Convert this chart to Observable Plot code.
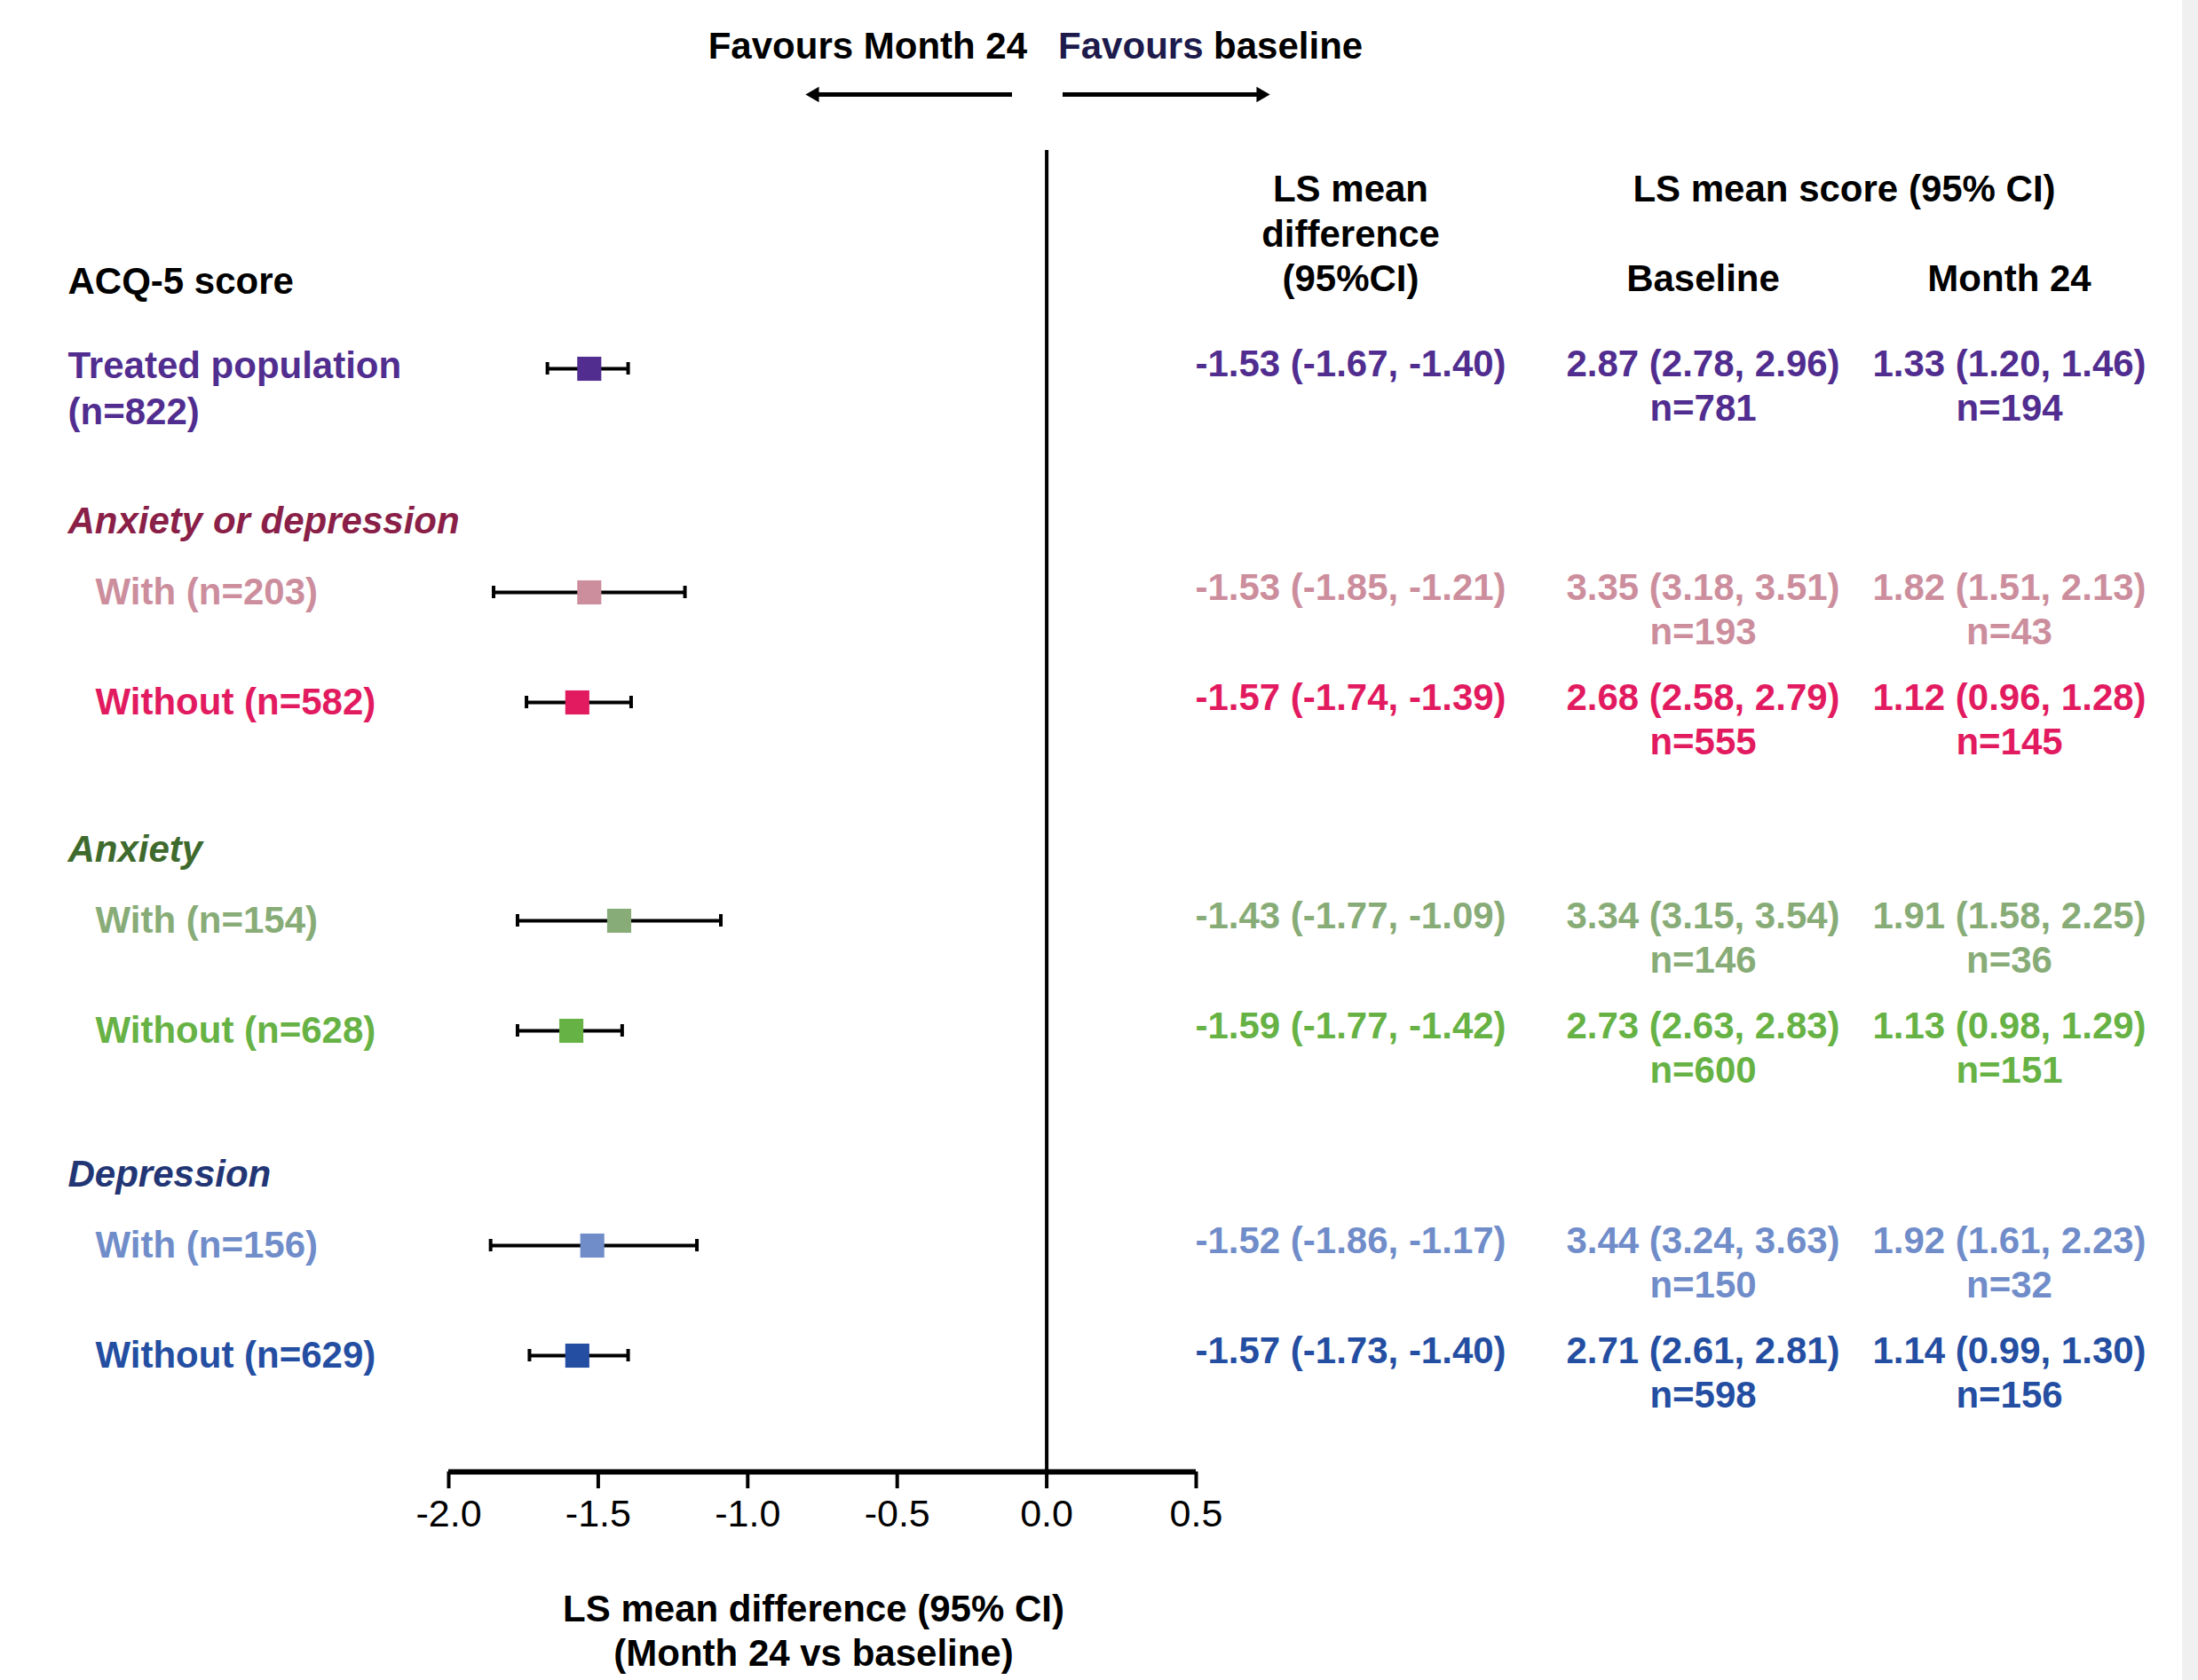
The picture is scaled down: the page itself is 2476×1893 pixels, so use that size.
<!DOCTYPE html>
<html><head><meta charset="utf-8">
<script src="https://cdn.jsdelivr.net/npm/d3@7"></script>
<script src="https://cdn.jsdelivr.net/npm/@observablehq/plot@0.6"></script>
<style>
html,body{margin:0;padding:0;background:#f0f0f0;}
#chart{width:2458px;height:1893px;background:#fff;overflow:hidden;}
</style></head><body><div id="chart"></div>
<script>
// ---------- data ----------
const groupHeadings = ["Anxiety or depression", "Anxiety", "Depression"];
const rowLabels = ["Treated population", "With", "Without", "With", "Without", "With", "Without"];
const sampleN = [822, 203, 582, 154, 628, 156, 629];
const diffMean = [-1.53, -1.53, -1.57, -1.43, -1.59, -1.52, -1.57];
const diffLo   = [-1.67, -1.85, -1.74, -1.77, -1.77, -1.86, -1.73];
const diffHi   = [-1.40, -1.21, -1.39, -1.09, -1.42, -1.17, -1.40];
const baseMean = [2.87, 3.35, 2.68, 3.34, 2.73, 3.44, 2.71];
const baseLo   = [2.78, 3.18, 2.58, 3.15, 2.63, 3.24, 2.61];
const baseHi   = [2.96, 3.51, 2.79, 3.54, 2.83, 3.63, 2.81];
const baseN    = [781, 193, 555, 146, 600, 150, 598];
const m24Mean  = [1.33, 1.82, 1.12, 1.91, 1.13, 1.92, 1.14];
const m24Lo    = [1.20, 1.51, 0.96, 1.58, 0.98, 1.61, 0.99];
const m24Hi    = [1.46, 2.13, 1.28, 2.25, 1.29, 2.23, 1.30];
const m24N     = [194, 43, 145, 36, 151, 32, 156];
const xTicks   = [-2.0, -1.5, -1.0, -0.5, 0.0, 0.5];

// ---------- styles ----------
const rowColors = ["#502d8f", "#cc8e9d", "#e21b60", "#88ac77", "#67b245", "#708dca", "#244ea2"];
const headingColors = ["#8a1f48", "#3e6a2d", "#223574"];
const W = 2458, H = 1893;
const FONT = '"Liberation Sans",Arial,Helvetica,sans-serif';
const X0 = 505, X1 = 1347, AXIS_Y = 1658;
const COL_DIFF = 1521, COL_BASE = 1918, COL_M24 = 2263;
const px2x = p => -2 + (p - X0) / (X1 - X0) * 2.5;

// ---------- layout (vertical) ----------
const rowY = [415];
const headingY = [];
{
  const headGap = [172, 166, 162];
  let y = 415;
  for (let g = 0; g < 3; g++) {
    y += headGap[g]; headingY.push(y);
    y += 80; rowY.push(y);
    y += 124; rowY.push(y);
  }
}
const f2 = v => v.toFixed(2);
const rows = rowLabels.map((lab, i) => ({
  label: i === 0 ? lab : `${lab} (n=${sampleN[i]})`,
  y: rowY[i], color: rowColors[i],
  mean: diffMean[i], lo: diffLo[i], hi: diffHi[i],
  diffText: `${f2(diffMean[i])} (${f2(diffLo[i])}, ${f2(diffHi[i])})`,
  baseText: `${f2(baseMean[i])} (${f2(baseLo[i])}, ${f2(baseHi[i])})`,
  baseNText: `n=${baseN[i]}`,
  m24Text: `${f2(m24Mean[i])} (${f2(m24Lo[i])}, ${f2(m24Hi[i])})`,
  m24NText: `n=${m24N[i]}`
}));
const headings = groupHeadings.map((h, g) => ({text: h, y: headingY[g], color: headingColors[g]}));
const subRows = rows.slice(1);
const arrows = [{a: px2x(1140), b: px2x(908), dir: -1}, {a: px2x(1197), b: px2x(1429), dir: 1}];

const bold = {fontFamily: FONT, fontWeight: "bold", fontSize: 42};
const colText = (key, dxp, dy) => Plot.text(rows, {
  ...bold, text: key, frameAnchor: "left", dx: dxp - X0, y: d => d.y + dy, fill: d => d.color, textAnchor: "middle"
});

const chart = Plot.plot({
  width: W, height: H,
  marginLeft: X0, marginRight: W - X1, marginTop: 0, marginBottom: H - AXIS_Y,
  x: {domain: [-2, 0.5], label: null},
  y: {domain: [0, H], range: [0, H], axis: null},
  color: {type: "identity"},
  style: {fontFamily: FONT, background: "white", overflow: "visible"},
  marks: [
    // header arrows
    Plot.text(["Favours Month 24"], {...bold, x: 0, y: 52, dx: -22, textAnchor: "end", text: d => d, fill: "#000"}),
    Plot.text(["Favours"], {...bold, x: 0, y: 52, dx: 13, textAnchor: "start", text: d => d, fill: "#1d1a4c"}),
    Plot.text(["baseline"], {...bold, x: 0, y: 52, dx: 1367 - 1179, textAnchor: "start", text: d => d, fill: "#000"}),
    Plot.ruleY(arrows, {x1: "a", x2: d => d.b - d.dir * 0.02, y: 106, strokeWidth: 5, stroke: "#000"}),
    Plot.dot(arrows.filter(d => d.dir < 0), {x: "b", y: 106, dx: 9, symbol: "triangle", rotate: -90, r: 6.5, fill: "#000", stroke: null}),
    Plot.dot(arrows.filter(d => d.dir > 0), {x: "b", y: 106, dx: -9, symbol: "triangle", rotate: 90, r: 6.5, fill: "#000", stroke: null}),
    // column headers
    Plot.text([{t: "LS mean", y: 213}, {t: "difference", y: 264}, {t: "(95%CI)", y: 314}], {
      ...bold, text: "t", y: "y", frameAnchor: "left", dx: COL_DIFF - X0, textAnchor: "middle", fill: "#000"
    }),
    Plot.text(["LS mean score (95% CI)"], {...bold, text: d => d, y: 213, frameAnchor: "left", dx: 2077 - X0, textAnchor: "middle", fill: "#000"}),
    Plot.text(["Baseline"], {...bold, text: d => d, y: 314, frameAnchor: "left", dx: COL_BASE - X0, textAnchor: "middle", fill: "#000"}),
    Plot.text(["Month 24"], {...bold, text: d => d, y: 314, frameAnchor: "left", dx: COL_M24 - X0, textAnchor: "middle", fill: "#000"}),
    // left labels
    Plot.text(["ACQ-5 score"], {...bold, text: d => d, y: 317, frameAnchor: "left", dx: 76 - X0, textAnchor: "start", fill: "#000"}),
    Plot.text([rows[0]], {...bold, text: "label", y: d => d.y - 3, frameAnchor: "left", dx: 76 - X0, textAnchor: "start", fill: "color"}),
    Plot.text([rows[0]], {...bold, text: () => `(n=${sampleN[0]})`, y: d => d.y + 49, frameAnchor: "left", dx: 76 - X0, textAnchor: "start", fill: "color"}),
    Plot.text(headings, {...bold, fontStyle: "italic", text: "text", y: "y",
      frameAnchor: "left", dx: 76 - X0, textAnchor: "start", fill: "color"}),
    Plot.text(subRows, {...bold, text: "label", y: "y",
      frameAnchor: "left", dx: 107 - X0, textAnchor: "start", fill: "color"}),
    // right table
    colText("diffText", COL_DIFF, -5),
    colText("baseText", COL_BASE, -5),
    colText("baseNText", COL_BASE, 45),
    colText("m24Text", COL_M24, -5),
    colText("m24NText", COL_M24, 45),
    // zero line and axis
    Plot.ruleX([0], {y1: 169, y2: AXIS_Y, strokeWidth: 4, stroke: "#000"}),
    Plot.ruleY([AXIS_Y], {x1: -2, x2: 0.5, strokeWidth: 6, stroke: "#000"}),
    Plot.axisX(xTicks, {anchor: "bottom", tickSize: 19, tickPadding: 12, strokeWidth: 4,
      tickFormat: d => d.toFixed(1), fontSize: 43, fontFamily: FONT, fill: "#000", label: null}),
    Plot.text([{t: "LS mean difference (95% CI)", y: 1813}, {t: "(Month 24 vs baseline)", y: 1863}], {
      ...bold, text: "t", y: "y", x: -0.75, dx: -10, textAnchor: "middle", fill: "#000"
    }),
    // error bars
    Plot.ruleY(rows, {y: "y", x1: "lo", x2: "hi", strokeWidth: 4, stroke: "#000"}),
    Plot.ruleX(rows, {x: "lo", y1: d => d.y - 7, y2: d => d.y + 7, strokeWidth: 4, stroke: "#000"}),
    Plot.ruleX(rows, {x: "hi", y1: d => d.y - 7, y2: d => d.y + 7, strokeWidth: 4, stroke: "#000"}),
    Plot.dot(rows, {x: "mean", y: "y", symbol: "square", r: 15.3, fill: "color", stroke: null})
  ]
});
document.getElementById("chart").appendChild(chart);
</script></body></html>
